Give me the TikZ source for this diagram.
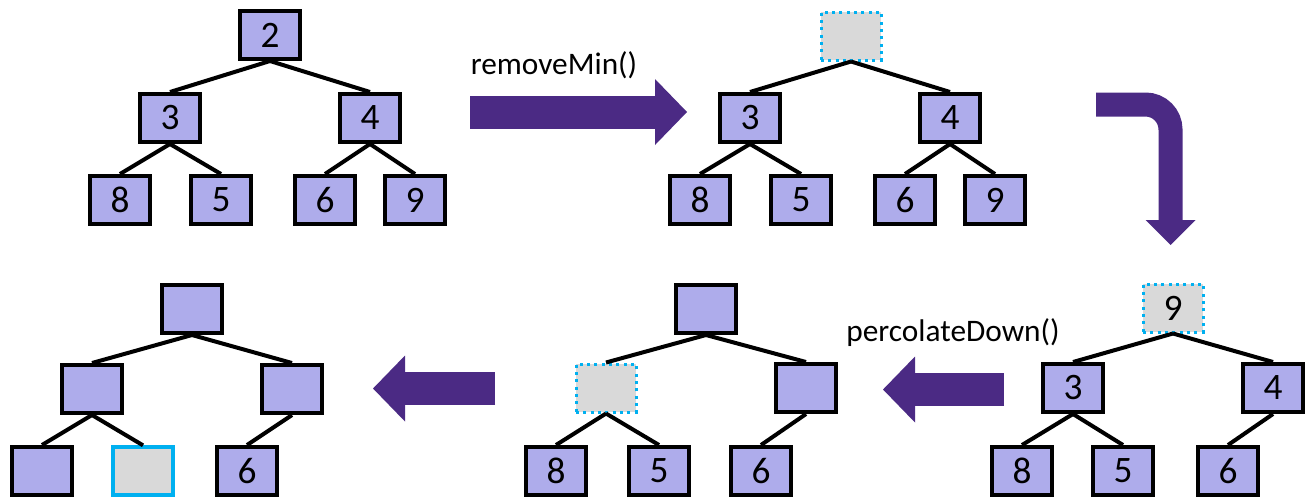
\documentclass[tikz,border=0pt]{standalone}
\usepackage{fontspec}
\setmainfont{Carlito}
\usepackage{xcolor}
\usepackage{tikz}
\usetikzlibrary{positioning, arrows.meta}
\definecolor{heapfill}{RGB}{174,172,235}
\definecolor{holegray}{RGB}{217,217,217}
\definecolor{holecyan}{RGB}{0,176,240}
\definecolor{stepcolor}{RGB}{75,42,132}

\begin{document}
\begin{tikzpicture}[
    x=0.75pt, y=-0.75pt,
    heapnode/.style={
        draw,
        line width=3pt,
        fill=heapfill,
        inner sep=0pt,
        minimum width=45pt,
        minimum height=36pt,
        font=\fontsize{28}{30}\selectfont
    },
    hole/.style={heapnode, fill=holegray, draw=holecyan,
        line width=2.25pt, dash pattern=on 2.25pt off 3.25pt},
    slot/.style={heapnode, fill=holegray, draw=holecyan, line width=2.5pt},
    edge/.style={line width=3pt},
    bigarrow/.style={stepcolor, line width=24.75pt,
        -{Triangle[length=24pt, width=49.5pt, line width=0pt]}},
    bigturn/.style={stepcolor, line width=18pt, rounded corners=18.75pt,
        -{Triangle[length=18.75pt, width=37.5pt, line width=0pt]}},
    lbl/.style={font=\fontsize{23.5}{26}\selectfont, inner sep=0pt}
]
\useasboundingbox (0,0) rectangle (1309,497);

% heap before removeMin
\node[heapnode] (a-root) at (270,35) {2};
\node[heapnode] (a-l) at (170,118) {3};
\node[heapnode] (a-r) at (370,118) {4};
\node[heapnode] (a-ll) at (120,200) {8};
\node[heapnode] (a-lr) at (221,200) {5};
\node[heapnode] (a-rl) at (325,200) {6};
\node[heapnode] (a-rr) at (415,200) {9};

% root taken out
\node[hole] (b-root) at (851,36) {};
\node[heapnode] (b-l) at (750,118) {3};
\node[heapnode] (b-r) at (950,118) {4};
\node[heapnode] (b-ll) at (700,200) {8};
\node[heapnode] (b-lr) at (801,200) {5};
\node[heapnode] (b-rl) at (905,200) {6};
\node[heapnode] (b-rr) at (995,200) {9};

% last leaf moved up
\node[hole] (c-root) at (1173,308) {9};
\node[heapnode] (c-l) at (1073,388) {3};
\node[heapnode] (c-r) at (1273,388) {4};
\node[heapnode] (c-ll) at (1022,471) {8};
\node[heapnode] (c-lr) at (1123,471) {5};
\node[heapnode] (c-rl) at (1228,471) {6};

% one step down
\node[heapnode] (d-root) at (706,309) {};
\node[hole] (d-l) at (606,388) {};
\node[heapnode] (d-r) at (806,388) {};
\node[heapnode] (d-ll) at (556,471) {8};
\node[heapnode] (d-lr) at (659,471) {5};
\node[heapnode] (d-rl) at (761,471) {6};

% two steps down
\node[heapnode] (e-root) at (192,309) {};
\node[heapnode] (e-l) at (92,389) {};
\node[heapnode] (e-r) at (292,389) {};
\node[heapnode] (e-ll) at (42,471) {};
\node[slot] (e-lr) at (143,471) {};
\node[heapnode] (e-rl) at (247,471) {6};

\foreach \t in {a,b,c,d,e} {
    \draw[edge] (\t-root.south) -- (\t-l.north);
    \draw[edge] (\t-root.south) -- (\t-r.north);
    \draw[edge] (\t-l.south) -- (\t-ll.north);
    \draw[edge] (\t-l.south) -- (\t-lr.north);
    \draw[edge] (\t-r.south) -- (\t-rl.north);
}
\draw[edge] (a-r.south) -- (a-rr.north);
\draw[edge] (b-r.south) -- (b-rr.north);

% steps
\coordinate (step1-tail) at (470,112);
\coordinate (step1-tip) at (687,112);
\coordinate (turn-tail) at (1096,104.5);
\coordinate (turn-tip) at (1170.5,245);
\coordinate (step3-tail) at (1004,389.5);
\coordinate (step3-tip) at (883,389.5);
\coordinate (step4-tail) at (495,388.5);
\coordinate (step4-tip) at (373,388.5);

\draw[bigarrow] (step1-tail) -- (step1-tip);
\draw[bigturn] (turn-tail) -| (turn-tip);
\draw[bigarrow] (step3-tail) -- (step3-tip);
\draw[bigarrow] (step4-tail) -- (step4-tip);

\node[lbl] (remove-lbl) at (554,65) {removeMin()};
\node[lbl] (percolate-lbl) at (953,333) {percolateDown()};

\end{tikzpicture}
\end{document}
